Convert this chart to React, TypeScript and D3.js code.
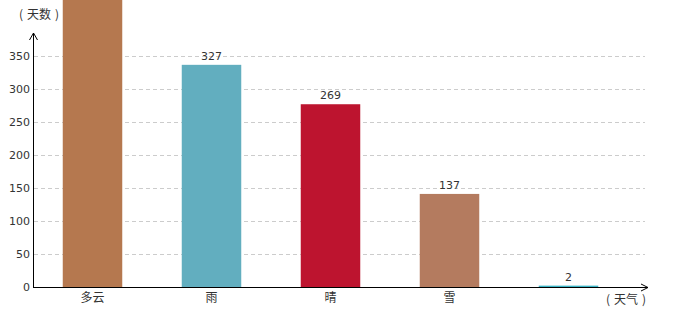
import React from "react";
import * as d3 from "d3";

const categories = ["多云", "雨", "晴", "雪", ""];
const values = [440, 327, 269, 137, 2];
const colors = ["#B5784F", "#62AEBF", "#BD142F", "#B47B5F", "#3BB5C6"];
const yTicks = [0, 50, 100, 150, 200, 250, 300, 350];
const yName = "天数";
const xName = "天气";

const W = 680;
const H = 320;
const x0 = 33;
const xEnd = 628;
const y0 = 287;

export default function App() {
  const x = d3.scaleBand<string>().domain(categories.map((c, i) => c + "_" + i)).range([x0, xEnd]).paddingInner(0.5).paddingOuter(0.25);
  const y = d3.scaleLinear().domain([0, 350]).range([y0, 56]);
  const yBar = d3.scaleLinear().domain([0, 340]).range([y0, 56]);
  const font = "'DejaVu Sans', 'Noto Sans CJK SC', sans-serif";
  const cjk = "'Noto Sans CJK SC', sans-serif";
  return (
    <svg width={W} height={H} style={{ position: "absolute", left: 0, top: 0, background: "#fff" }} fontFamily={font}>
      {yTicks.filter((t) => t > 0).map((t) => (
        <line key={"g" + t} x1={x0 + 1} x2={645} y1={y(t) + 0.5} y2={y(t) + 0.5} stroke="#ccc" strokeDasharray="4,3" />
      ))}
      {yTicks.map((t) => (
        <text key={"t" + t} x={30} y={y(t) + 4} textAnchor="end" fontSize={11} fill="#333">{t}</text>
      ))}
      {values.map((v, i) => {
        const key = categories[i] + "_" + i;
        const bx = x(key)!;
        const top = yBar(v);
        return (
          <g key={key}>
            <rect x={bx} y={top} width={x.bandwidth()} height={y0 - top} fill={colors[i]} />
            {top - 5 > 12 && (
              <text x={bx + x.bandwidth() / 2} y={top - 5} textAnchor="middle" fontSize={11} fill="#333">{v}</text>
            )}
            <text x={bx + x.bandwidth() / 2} y={302} textAnchor="middle" fontSize={12} fill="#333" fontFamily={cjk}>{categories[i]}</text>
          </g>
        );
      })}
      <line x1={x0 + 0.5} x2={x0 + 0.5} y1={y0} y2={33} stroke="#000" />
      <path d={`M${x0 - 3.5},${40} L${x0 + 0.5},${33} L${x0 + 4.5},${40}`} fill="none" stroke="#000" />
      <line x1={x0} x2={648} y1={y0 + 0.5} y2={y0 + 0.5} stroke="#000" />
      <path d={`M${641},${284} L${648},${y0 + 0.5} L${641},${291}`} fill="none" stroke="#000" />
      <text x={19} y={19} fontSize={12} fill="#333" fontFamily={cjk}>
        <tspan>(</tspan><tspan dx={4}>{yName}</tspan><tspan dx={4}>)</tspan>
      </text>
      <text x={606} y={304} fontSize={12} fill="#333" fontFamily={cjk}>
        <tspan>(</tspan><tspan dx={4}>{xName}</tspan><tspan dx={4}>)</tspan>
      </text>
    </svg>
  );
}
